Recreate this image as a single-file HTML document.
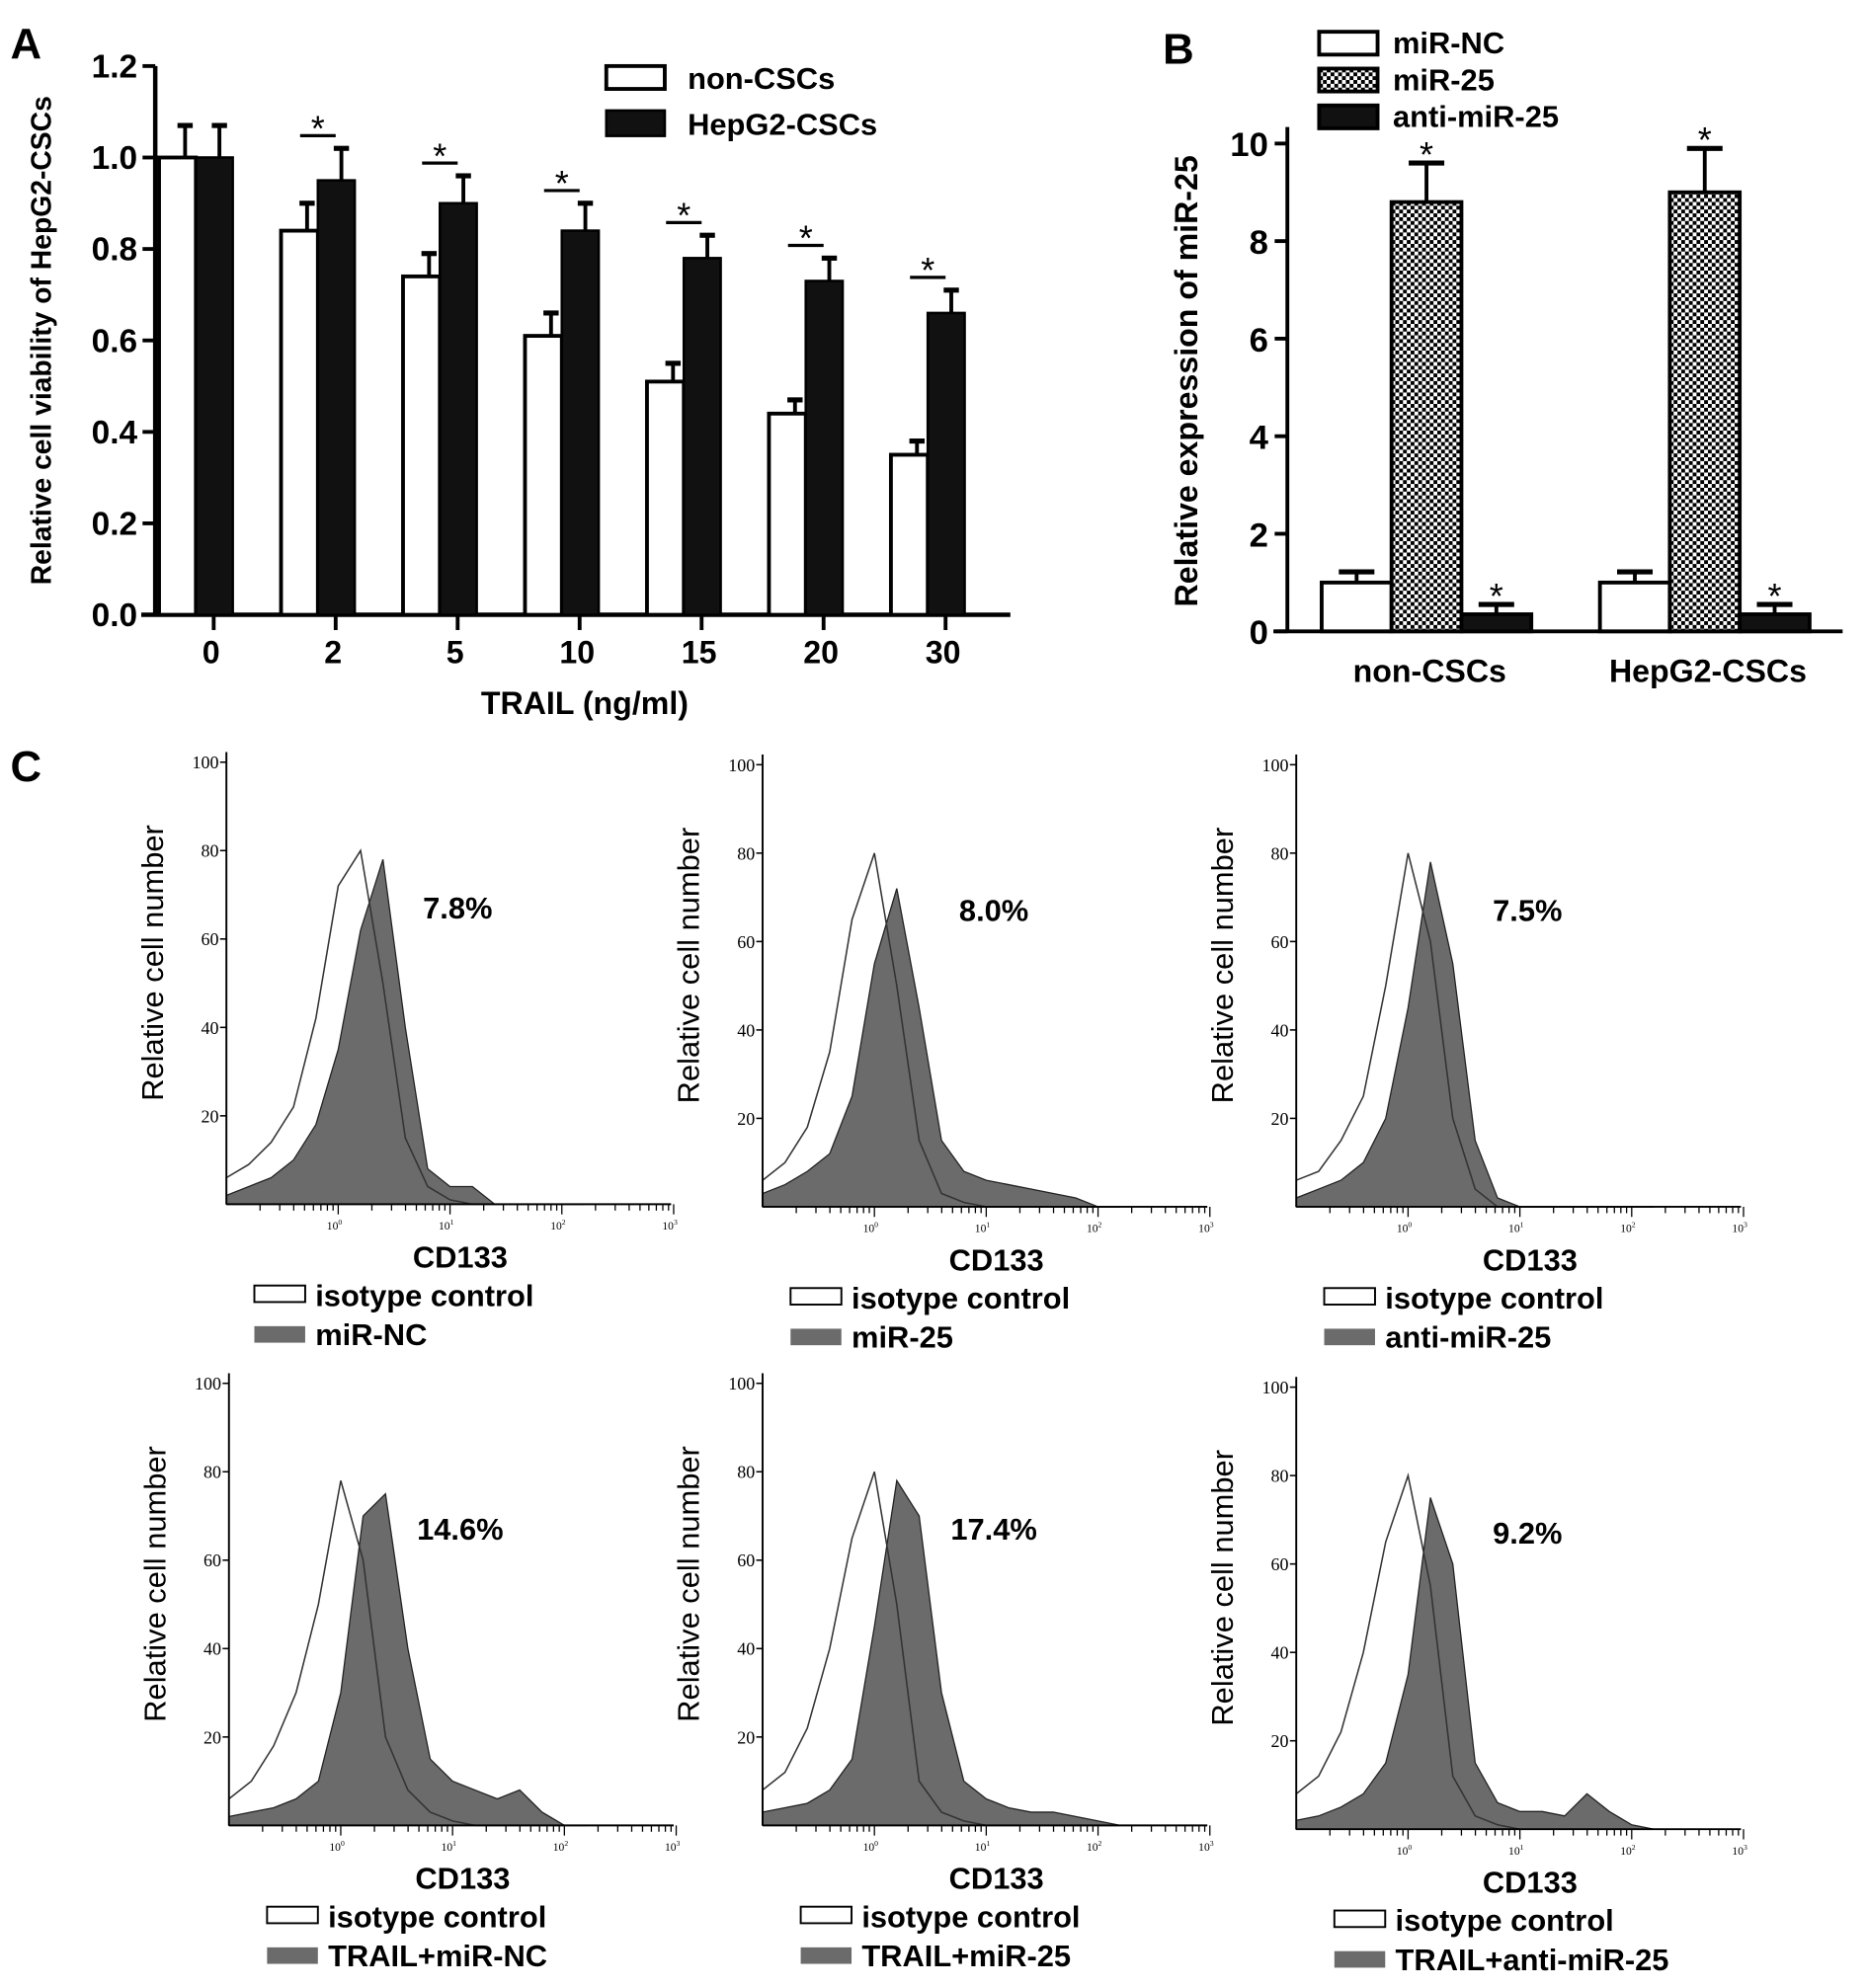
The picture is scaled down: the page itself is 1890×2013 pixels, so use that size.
<!DOCTYPE html>
<html><head><meta charset="utf-8"><style>
html,body{margin:0;padding:0;background:#fff;}
svg{display:block;}
text{font-family:"Liberation Sans",Arial,sans-serif;}
.b{font-weight:bold;}
.serif{font-family:"Liberation Serif",serif;}
</style></head><body>
<svg id="fig" width="1890" height="2013" viewBox="0 0 1469 1565" xmlns="http://www.w3.org/2000/svg">
<defs>
<pattern id="chk" width="6" height="6" patternUnits="userSpaceOnUse">
<rect width="6" height="6" fill="#fff"/><rect width="3" height="3" fill="#000"/><rect x="3" y="3" width="3" height="3" fill="#000"/>
</pattern>
</defs>
<g id="panelA"></g>
<g id="panelB"></g>
<g id="panelC"></g>
</svg>
<script>
// ---- Panel A data
const aCategories = ["0","2","5","10","15","20","30"];
const aNonCSC = [1.0,0.84,0.74,0.61,0.51,0.44,0.35];
const aNonCSCErr = [0.07,0.06,0.05,0.05,0.04,0.03,0.03];
const aCSC = [1.0,0.95,0.90,0.84,0.78,0.73,0.66];
const aCSCErr = [0.07,0.07,0.06,0.06,0.05,0.05,0.05];
const aTicks = ["0.0","0.2","0.4","0.6","0.8","1.0","1.2"];
const aSig = [false,true,true,true,true,true,true];
// ---- Panel B data
const bGroups = ["non-CSCs","HepG2-CSCs"];
const bMiRNC = [1.0,1.0];
const bMiRNCErr = [0.22,0.22];
const bMiR25 = [8.8,9.0];
const bMiR25Err = [0.8,0.9];
const bAnti = [0.35,0.35];
const bAntiErr = [0.2,0.2];
const bTicks = ["0","2","4","6","8","10"];
// ---- Panel C data (histogram heights %, at log10 positions)
const cLogPos = [-1,-0.8,-0.6,-0.4,-0.2,0,0.2,0.4,0.6,0.8,1.0,1.2,1.4,1.6,1.8,2.0,2.2];
const cGray1 = [2,4,6,10,18,35,62,78,40,8,4,4,0,0,0,0,0];
const cIso1 = [6,9,14,22,42,72,80,50,15,4,1,0,0,0,0,0,0];
const cGray2 = [3,5,8,12,25,55,72,45,15,8,6,5,4,3,2,0,0];
const cIso2 = [6,10,18,35,65,80,50,15,3,1,0,0,0,0,0,0,0];
const cGray3 = [2,4,6,10,20,45,78,55,15,2,0,0,0,0,0,0,0];
const cIso3 = [6,8,15,25,50,80,60,20,4,0,0,0,0,0,0,0,0];
const cGray4 = [2,3,4,6,10,30,70,75,40,15,10,8,6,8,3,0,0];
const cIso4 = [6,10,18,30,50,78,60,20,8,3,1,0,0,0,0,0,0];
const cGray5 = [3,4,5,8,15,45,78,70,30,10,6,4,3,3,2,1,0];
const cIso5 = [8,12,22,40,65,80,50,10,3,1,0,0,0,0,0,0,0];
const cGray6 = [2,3,5,8,15,35,75,60,15,6,4,4,3,8,4,1,0];
const cIso6 = [8,12,22,40,65,80,55,12,3,1,0,0,0,0,0,0,0];
const cPercents = ["7.8%","8.0%","7.5%","14.6%","17.4%","9.2%"];
const cGroupLabels = ["miR-NC","miR-25","anti-miR-25","TRAIL+miR-NC","TRAIL+miR-25","TRAIL+anti-miR-25"];
const cYTicks = [20,40,60,80,100];

const NS="http://www.w3.org/2000/svg";
function mk(parent,tag,attrs,txt){const e=document.createElementNS(NS,tag);for(const k in attrs)e.setAttribute(k,attrs[k]);if(txt!==undefined)e.textContent=txt;parent.appendChild(e);return e;}

// ===== Panel A
(function(){
const g=document.getElementById('panelA');
const x0=122,x1=795,y0=484,yTop=52;
const ys=v=>y0-(v/1.2)*(y0-yTop);
const xs=i=>168+96*i;
let t=mk(g,'text',{x:8,y:46,'font-size':34,class:'b'},'A');

mk(g,'line',{x1:x0,y1:yTop,x2:x0,y2:y0+1,stroke:'#000','stroke-width':3.5});
mk(g,'line',{x1:x0-11,y1:y0,x2:x1,y2:y0,stroke:'#000','stroke-width':3.5});
aTicks.forEach((lab,i)=>{const v=parseFloat(lab);const y=ys(v);
 mk(g,'line',{x1:x0-10,y1:y,x2:x0,y2:y,stroke:'#000','stroke-width':3});
 const tt=mk(g,'text',{x:x0-14,y:y+9,'font-size':26,class:'b','text-anchor':'end'},lab);
 });
aCategories.forEach((c,i)=>{const cx=xs(i);
 mk(g,'line',{x1:cx,y1:y0,x2:cx,y2:y0+12,stroke:'#000','stroke-width':3});
 const tt=mk(g,'text',{x:cx-2,y:y0+38,'font-size':25,class:'b','text-anchor':'middle'},c);
 
 const wl=cx-43,bl=cx-14,w=29;
 const eb1=ys(aNonCSC[i]+aNonCSCErr[i]);
 mk(g,'line',{x1:wl+w/2+6,y1:ys(aNonCSC[i]),x2:wl+w/2+6,y2:eb1,stroke:'#000','stroke-width':3});
 mk(g,'line',{x1:wl+w/2,y1:eb1,x2:wl+w/2+12,y2:eb1,stroke:'#000','stroke-width':4});
 const r1=mk(g,'rect',{x:wl,y:ys(aNonCSC[i]),width:w,height:y0-ys(aNonCSC[i]),fill:'#fff',stroke:'#000','stroke-width':3});
 
 const eb2=ys(aCSC[i]+aCSCErr[i]);
 mk(g,'line',{x1:bl+w/2+4,y1:ys(aCSC[i]),x2:bl+w/2+4,y2:eb2,stroke:'#000','stroke-width':3});
 mk(g,'line',{x1:bl+w/2-2,y1:eb2,x2:bl+w/2+10,y2:eb2,stroke:'#000','stroke-width':4});
 const r2=mk(g,'rect',{x:bl,y:ys(aCSC[i]),width:w,height:y0-ys(aCSC[i]),fill:'#111',stroke:'#000','stroke-width':2});
 
 if(aSig[i]){const yb=eb2-10;
  mk(g,'line',{x1:cx-28,y1:yb,x2:cx,y2:yb,stroke:'#000','stroke-width':2.5});
  const s=mk(g,'text',{x:cx-14,y:yb+4,'font-size':28,'text-anchor':'middle'},'*');
  }
});
t=mk(g,'text',{x:0,y:0,'font-size':22,class:'b','text-anchor':'middle',transform:'translate(40,268) rotate(-90)'},'Relative cell viability of HepG2-CSCs');

t=mk(g,'text',{x:460,y:562,'font-size':25,class:'b','text-anchor':'middle'},'TRAIL (ng/ml)');

mk(g,'rect',{x:477,y:52,width:46,height:18,fill:'#fff',stroke:'#000','stroke-width':3});
t=mk(g,'text',{x:541,y:70,'font-size':24,class:'b'},'non-CSCs');
mk(g,'rect',{x:477,y:87,width:46,height:20,fill:'#111',stroke:'#000','stroke-width':2});
t=mk(g,'text',{x:541,y:106,'font-size':24,class:'b'},'HepG2-CSCs');
})();

// ===== Panel B
(function(){
const g=document.getElementById('panelB');
const x0=1013,x1=1450,y0=497,yTop=113;
const ys=v=>y0-(v/10)*(y0-yTop);
let t=mk(g,'text',{x:915,y:50,'font-size':34,class:'b'},'B');

mk(g,'line',{x1:x0,y1:100,x2:x0,y2:y0+1,stroke:'#000','stroke-width':3});
mk(g,'line',{x1:x0-11,y1:y0,x2:x1,y2:y0,stroke:'#000','stroke-width':3});
bTicks.forEach(lab=>{const y=ys(parseFloat(lab));
 mk(g,'line',{x1:x0-10,y1:y,x2:x0,y2:y,stroke:'#000','stroke-width':3});
 const tt=mk(g,'text',{x:x0-15,y:y+10,'font-size':27,class:'b','text-anchor':'end'},lab);
 });
const series=[[bMiRNC,bMiRNCErr,'#fff','bar-mir-nc',false],[bMiR25,bMiR25Err,'url(#chk)','bar-mir-25',true],[bAnti,bAntiErr,'#111','bar-anti-mir-25',true]];
bGroups.forEach((gname,gi)=>{const gx=1040+219*gi;
 series.forEach((s,si)=>{const v=s[0][gi],e=s[1][gi];const xl=gx+55*si,w=55;
  const ye=ys(v+e);const cx=xl+w/2;
  mk(g,'line',{x1:cx,y1:ys(v),x2:cx,y2:ye,stroke:'#000','stroke-width':3});
  mk(g,'line',{x1:cx-14,y1:ye,x2:cx+14,y2:ye,stroke:'#000','stroke-width':4});
  const r=mk(g,'rect',{x:xl,y:ys(v),width:w,height:y0-ys(v),fill:s[2],stroke:'#000','stroke-width':3});
  
  if(s[4]){const st=mk(g,'text',{x:cx,y:ye+3,'font-size':28,'text-anchor':'middle'},'*');
   }
 });
 const lt=mk(g,'text',{x:gx+85,y:537,'font-size':25,class:'b','text-anchor':'middle'},gname);
 
});
t=mk(g,'text',{x:0,y:0,'font-size':25,class:'b','text-anchor':'middle',transform:'translate(942,300) rotate(-90)'},'Relative expression of miR-25');

const leg=[['#fff','miR-NC',25],['url(#chk)','miR-25',54],['#111','anti-miR-25',83]];
leg.forEach(l=>{mk(g,'rect',{x:1038,y:l[2],width:46,height:18,fill:l[0],stroke:'#000','stroke-width':3});
 const tt=mk(g,'text',{x:1096,y:l[2]+17,'font-size':24,class:'b'},l[1]);
 });
})();

// ===== Panel C
(function(){
const g=document.getElementById('panelC');
let t=mk(g,'text',{x:8,y:615,'font-size':34,class:'b'},'C');

const grays=[cGray1,cGray2,cGray3,cGray4,cGray5,cGray6];
const isos=[cIso1,cIso2,cIso3,cIso4,cIso5,cIso6];
const origins=[[178,948],[600,950],[1020,950],[180,1437],[600,1437],[1020,1440]];
origins.forEach((o,p)=>{
 const ax=o[0],by=o[1],h=348,dec=88;const sub=mk(g,'g',{});
 
 const xs=l=>ax+(l+1)*dec;const ys=v=>by-v/100*h;
 function pathFor(arr,close){let d='';
  for(let i=0;i<arr.length;i++){const x=xs(cLogPos[i]),y=ys(arr[i]);
   if(i===0)d+=`M${x},${by} L${x},${y}`;else d+=` L${x},${y}`;}
  d+=` L${xs(cLogPos[arr.length-1])},${by}`;if(close)d+=' Z';return d;}
 const gp=mk(sub,'path',{d:pathFor(grays[p],true),fill:'#6b6b6b',stroke:'#222','stroke-width':1});
 
 const ip=mk(sub,'path',{d:pathFor(isos[p],false),fill:'none',stroke:'#333','stroke-width':1.2});
 
 mk(sub,'line',{x1:ax,y1:by-h-8,x2:ax,y2:by,stroke:'#000','stroke-width':1.5});
 mk(sub,'line',{x1:ax,y1:by,x2:ax+4*dec-2,y2:by,stroke:'#000','stroke-width':1.5});
 cYTicks.forEach(v=>{mk(sub,'line',{x1:ax-5,y1:ys(v),x2:ax,y2:ys(v),stroke:'#000','stroke-width':1.2});
  const tt=mk(sub,'text',{x:ax-6,y:ys(v)+5,'font-size':14,class:'serif','text-anchor':'end'},String(v));
  });
 for(let d=-1;d<3;d++){for(let k=2;k<=10;k++){const x=xs(d+Math.log10(k));
  mk(sub,'line',{x1:x,y1:by,x2:x,y2:by+(k===10?8:5),stroke:'#000','stroke-width':1});}}
 ['0','1','2','3'].forEach((e,i)=>{const x=xs(i);
  const tt=mk(sub,'text',{x:x-3,y:by+20,'font-size':9,class:'serif','text-anchor':'middle'});
  mk(tt,'tspan',{},'10');mk(tt,'tspan',{dy:-4,'font-size':6},e);
  });
 t=mk(sub,'text',{x:0,y:0,'font-size':24,'text-anchor':'middle',transform:`translate(${ax-50},${by-190}) rotate(-90)`},'Relative cell number');
 
 t=mk(sub,'text',{x:ax+182,y:by-225,'font-size':24,class:'b','text-anchor':'middle'},cPercents[p]);
 
 t=mk(sub,'text',{x:ax+184,y:by+50,'font-size':24,class:'b','text-anchor':'middle'},'CD133');
 
 const lx=ax+22+(p>=3?8:0);
 mk(sub,'rect',{x:lx,y:by+64,width:40,height:13,fill:'#fff',stroke:'#000','stroke-width':1.5});
 t=mk(sub,'text',{x:lx+48,y:by+80,'font-size':24,class:'b'},'isotype control');
 
 mk(sub,'rect',{x:lx,y:by+96,width:40,height:13,fill:'#6b6b6b'});
 t=mk(sub,'text',{x:lx+48,y:by+111,'font-size':24,class:'b'},cGroupLabels[p]);
 
});
})();
</script>
</body></html>
